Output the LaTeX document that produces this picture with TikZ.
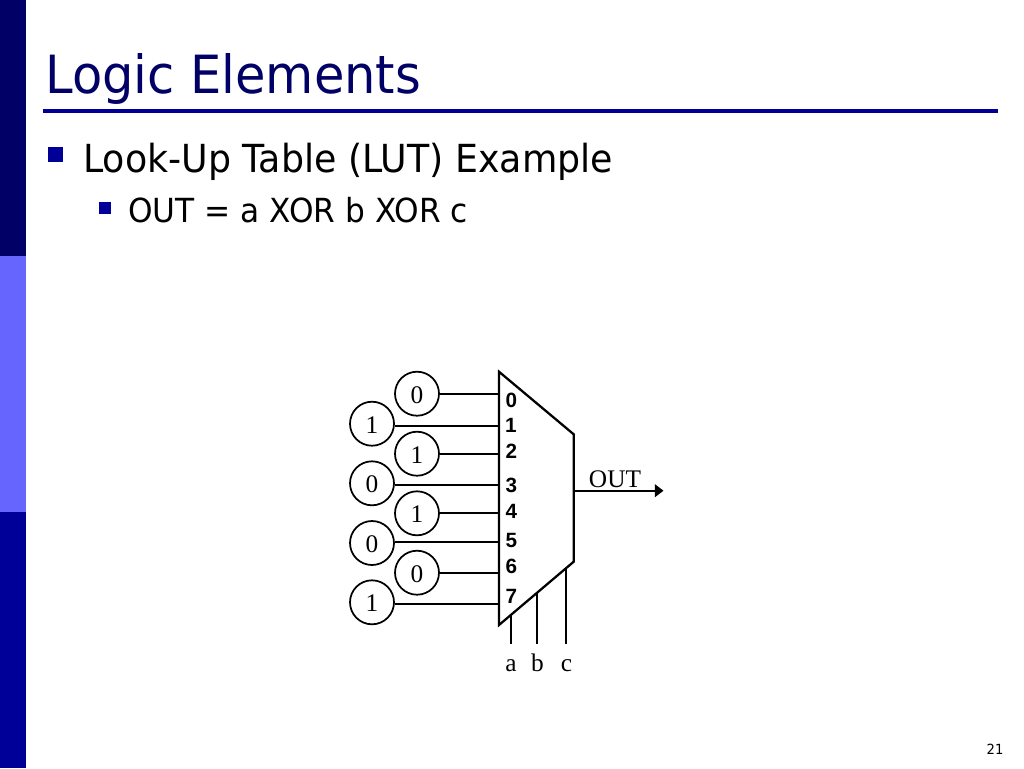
\documentclass[tikz,border=0pt]{standalone}
\usepackage{fontspec}
\setmainfont{DejaVu Sans}[FakeStretch=0.94]
\newfontfamily\figserif{Liberation Serif}
\newfontfamily\figsans{Liberation Sans}
\usepackage{xcolor}
\usetikzlibrary{arrows.meta}

\definecolor{navybar}{RGB}{0,0,102}
\definecolor{lightbar}{RGB}{102,102,255}
\definecolor{bluebar}{RGB}{0,0,153}

\tikzset{
    wire/.style={line width=1.5pt, black},
    bitcircle/.style={draw, circle, line width=1.3pt, minimum size=33pt, inner sep=0pt, text height=14.5pt, text depth=0pt, font=\figserif\fontsize{19}{20}\selectfont},
    pinlabel/.style={inner sep=0pt, font=\figsans\bfseries\fontsize{15.5}{17}\selectfont},
    figlabel/.style={inner sep=0pt, anchor=base, font=\figserif\fontsize{19}{20}\selectfont},
    bullet/.style={fill=bluebar, draw=none, inner sep=0pt}
}

\begin{document}
\begin{tikzpicture}[x=0.75pt, y=-0.75pt]

    \useasboundingbox (0, 0) rectangle (1024, 768);

    % Bar on the left
    \fill[navybar] (0, 0) rectangle (26, 256);
    \fill[lightbar] (0, 256) rectangle (26, 512);
    \fill[bluebar] (0, 512) rectangle (26, 768);

    % Title and text
    \node[anchor=base west, inner sep=0pt, text=navybar, font=\fontsize{39.5}{44}\selectfont] (title) at (45, 93) {Logic Elements};
    \draw[bluebar, line width=2.4pt] (43, 111) -- (998, 111);
    \node[bullet, minimum size=11.25pt] (bulletone) at (55.5, 154.5) {};
    \node[anchor=base west, inner sep=0pt, font=\fontsize{29}{32}\selectfont] (lineone) at (83, 172.7) {Look-Up Table (LUT) Example};
    \node[bullet, minimum size=9pt] (bullettwo) at (105, 207.5) {};
    \node[anchor=base west, inner sep=0pt, font=\fontsize{24.9}{28}\selectfont] (linetwo) at (128, 222.7) {OUT = a XOR b XOR c};
    \node[inner sep=0pt, font=\fontsize{10.5}{12}\selectfont] (pagenum) at (995, 749) {21};

    % Mux body
    \draw[line width=1.7pt, line join=miter] (499, 371.7) -- (573.7, 434.3) -- (573.7, 561.7) -- (499, 625) -- cycle;

    \coordinate (in0) at (499, 393.7);
    \coordinate (in1) at (499, 425.7);
    \coordinate (in2) at (499, 453.7);
    \coordinate (in3) at (499, 485.3);
    \coordinate (in4) at (499, 513.3);
    \coordinate (in5) at (499, 542.3);
    \coordinate (in6) at (499, 572.7);
    \coordinate (in7) at (499, 604.3);

    % Stored bits
    \node[bitcircle] (bit0) at (417, 393.7) {0};
    \node[bitcircle] (bit1) at (372, 423.7) {1};
    \node[bitcircle] (bit2) at (417, 453.7) {1};
    \node[bitcircle] (bit3) at (372, 483.3) {0};
    \node[bitcircle] (bit4) at (417, 513.3) {1};
    \node[bitcircle] (bit5) at (372, 543) {0};
    \node[bitcircle] (bit6) at (417, 572.7) {0};
    \node[bitcircle] (bit7) at (372, 602.3) {1};

    \draw[wire] (in0 -| bit0.east) -- (in0);
    \draw[wire] (in1 -| bit1.east) -- (in1);
    \draw[wire] (in2 -| bit2.east) -- (in2);
    \draw[wire] (in3 -| bit3.east) -- (in3);
    \draw[wire] (in4 -| bit4.east) -- (in4);
    \draw[wire] (in5 -| bit5.east) -- (in5);
    \draw[wire] (in6 -| bit6.east) -- (in6);
    \draw[wire] (in7 -| bit7.east) -- (in7);

    % Pin numbers
    \node[pinlabel] (pin0) at (511.3, 400) {0};
    \node[pinlabel] (pin1) at (510.8, 425.7) {1};
    \node[pinlabel] (pin2) at (511.3, 451.7) {2};
    \node[pinlabel] (pin3) at (511.3, 485.7) {3};
    \node[pinlabel] (pin4) at (511.3, 511.5) {4};
    \node[pinlabel] (pin5) at (511.3, 540.5) {5};
    \node[pinlabel] (pin6) at (511.3, 566.3) {6};
    \node[pinlabel] (pin7) at (511.3, 596.7) {7};

    % Output
    \coordinate (outstart) at (573.7, 490.7);
    \coordinate (outend) at (663.5, 490.7);
    \draw[wire, -{Triangle[length=6.5pt, width=9.5pt]}] (outstart) -- (outend);
    \node[figlabel] (outlabel) at (615, 487) {OUT};

    % Select lines
    \node[figlabel] (sela) at (511, 671.5) {a};
    \node[figlabel] (selb) at (537.5, 671.5) {b};
    \node[figlabel] (selc) at (566.5, 671.5) {c};
    \coordinate (edgea) at (511, 614.8);
    \coordinate (edgeb) at (537, 592.5);
    \coordinate (edgec) at (566.3, 568);
    \coordinate (enda) at (511, 644);
    \coordinate (endb) at (537, 644);
    \coordinate (endc) at (566.3, 644);
    \draw[wire] (edgea) -- (enda);
    \draw[wire] (edgeb) -- (endb);
    \draw[wire] (edgec) -- (endc);

\end{tikzpicture}
\end{document}
